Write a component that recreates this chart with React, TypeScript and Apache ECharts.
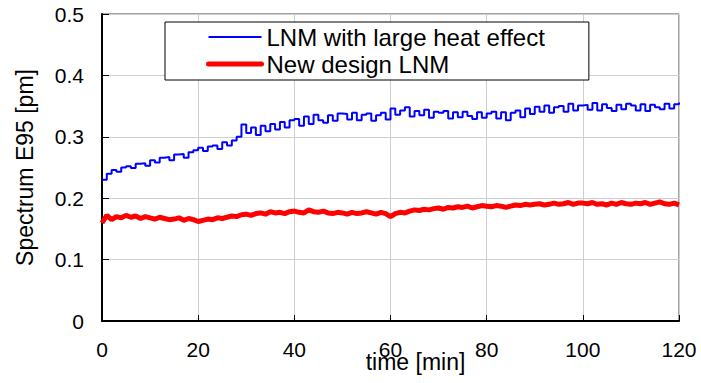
import React, { useEffect, useRef } from "react";
import * as echarts from "echarts";

// time in minutes (one sample per minute, 0..120)
const minutes: number[] = [
  0, 1, 2, 3, 4, 5, 6, 7, 8, 9, 10, 11, 12, 13, 14, 15, 16, 17, 18, 19,
  20, 21, 22, 23, 24, 25, 26, 27, 28, 29, 30, 31, 32, 33, 34, 35, 36, 37, 38, 39,
  40, 41, 42, 43, 44, 45, 46, 47, 48, 49, 50, 51, 52, 53, 54, 55, 56, 57, 58, 59,
  60, 61, 62, 63, 64, 65, 66, 67, 68, 69, 70, 71, 72, 73, 74, 75, 76, 77, 78, 79,
  80, 81, 82, 83, 84, 85, 86, 87, 88, 89, 90, 91, 92, 93, 94, 95, 96, 97, 98, 99,
  100, 101, 102, 103, 104, 105, 106, 107, 108, 109, 110, 111, 112, 113, 114, 115, 116, 117, 118, 119,
  120,
];

// LNM with large heat effect [pm]
const largeHeat: number[] = [
  0.230, 0.240, 0.246, 0.243, 0.250, 0.252, 0.249, 0.256, 0.257, 0.253,
  0.262, 0.258, 0.266, 0.267, 0.262, 0.271, 0.272, 0.266, 0.275, 0.278,
  0.282, 0.277, 0.284, 0.286, 0.280, 0.291, 0.286, 0.294, 0.300, 0.320,
  0.306, 0.315, 0.303, 0.318, 0.309, 0.321, 0.312, 0.324, 0.315, 0.327,
  0.329, 0.318, 0.333, 0.321, 0.336, 0.327, 0.323, 0.335, 0.326, 0.338,
  0.337, 0.328, 0.339, 0.327, 0.336, 0.338, 0.326, 0.335, 0.339, 0.328,
  0.346, 0.336, 0.343, 0.348, 0.333, 0.342, 0.335, 0.344, 0.331, 0.341,
  0.339, 0.342, 0.330, 0.340, 0.332, 0.341, 0.334, 0.329, 0.340, 0.331,
  0.338, 0.341, 0.330, 0.340, 0.327, 0.339, 0.343, 0.332, 0.346, 0.337,
  0.349, 0.341, 0.351, 0.339, 0.348, 0.350, 0.341, 0.354, 0.343, 0.351,
  0.352, 0.344, 0.355, 0.343, 0.353, 0.347, 0.342, 0.352, 0.345, 0.354,
  0.351, 0.343, 0.353, 0.342, 0.352, 0.348, 0.345, 0.354, 0.346, 0.353,
  0.356,
];

// New design LNM [pm]
const newDesign: number[] = [
  0.160, 0.172, 0.165, 0.170, 0.168, 0.172, 0.169, 0.171, 0.167, 0.170,
  0.168, 0.166, 0.169, 0.167, 0.165, 0.166, 0.168, 0.164, 0.167, 0.165,
  0.162, 0.164, 0.166, 0.165, 0.168, 0.167, 0.169, 0.171, 0.170, 0.173,
  0.174, 0.172, 0.175, 0.176, 0.174, 0.178, 0.176, 0.177, 0.175, 0.178,
  0.179, 0.177, 0.176, 0.181, 0.178, 0.177, 0.179, 0.176, 0.175, 0.177,
  0.176, 0.174, 0.177, 0.175, 0.176, 0.178, 0.176, 0.174, 0.177, 0.175,
  0.170, 0.175, 0.177, 0.176, 0.179, 0.181, 0.180, 0.182, 0.181, 0.183,
  0.184, 0.182, 0.185, 0.184, 0.186, 0.185, 0.187, 0.184, 0.186, 0.188,
  0.187, 0.186, 0.188, 0.187, 0.185, 0.187, 0.189, 0.188, 0.190, 0.189,
  0.190, 0.191, 0.189, 0.190, 0.192, 0.190, 0.191, 0.193, 0.190, 0.192,
  0.192, 0.191, 0.193, 0.190, 0.191, 0.189, 0.192, 0.190, 0.193, 0.191,
  0.190, 0.192, 0.191, 0.193, 0.190, 0.192, 0.194, 0.191, 0.190, 0.192,
  0.189,
];

const seriesNames = ["LNM with large heat effect", "New design LNM"];
const xTitle = "time [min]";
const yTitle = "Spectrum E95 [pm]";

const FONT = "'Liberation Sans', Arial, sans-serif";

export default function App() {
  const ref = useRef<HTMLDivElement>(null);

  useEffect(() => {
    document.body.style.margin = "0";
    if (!ref.current) return;
    const chart = echarts.init(ref.current, undefined, { renderer: "svg" });
    const zip = (vals: number[]) => minutes.map((t, i) => [t, vals[i]]);
    chart.setOption({
      animation: false,
      backgroundColor: "#ffffff",
      textStyle: { fontFamily: FONT, color: "#000" },
      grid: {
        left: 102,
        right: 22,
        top: 14,
        bottom: 62,
        containLabel: false,
        outerBoundsMode: "none",
        show: true,
        borderColor: "#444",
        borderWidth: 1,
      },
      legend: {
        left: 165,
        top: 22,
        orient: "vertical",
        backgroundColor: "#fff",
        borderColor: "#000",
        borderWidth: 1,
        borderRadius: 0,
        padding: [3, 44, 4, 41],
        itemWidth: 53,
        itemHeight: 14,
        itemGap: 3,
        itemStyle: { color: "transparent", borderColor: "transparent", borderWidth: 0, opacity: 0 },
        textStyle: { fontSize: 24, lineHeight: 24, fontFamily: FONT, color: "#000" },
        data: [
          { name: seriesNames[0], lineStyle: { width: 2, color: "#0000ff" } },
          { name: seriesNames[1], lineStyle: { width: 5, color: "#ff0000", cap: "round" } },
        ],
      },
      xAxis: {
        type: "value",
        min: 0,
        max: 120,
        interval: 20,
        name: xTitle,
        nameLocation: "middle",
        nameGap: 29,
        nameMoveOverlap: false,
        nameTextStyle: { fontSize: 23, fontFamily: FONT, color: "#000", padding: [0, 0, 0, 50] },
        axisLine: { show: true, onZero: false, lineStyle: { color: "#000", width: 2 } },
        axisTick: { show: true, inside: true, length: 6, lineStyle: { color: "#000" } },
        axisLabel: { fontSize: 21, margin: 18, color: "#000", fontFamily: FONT },
        splitLine: { show: true, lineStyle: { color: "#cfcfcf", width: 1 } },
      },
      yAxis: {
        type: "value",
        min: 0,
        max: 0.5,
        interval: 0.1,
        name: yTitle,
        nameLocation: "middle",
        nameGap: 66,
        nameMoveOverlap: false,
        nameTextStyle: { fontSize: 23, fontFamily: FONT, color: "#000" },
        axisLine: { show: true, lineStyle: { color: "#000", width: 2 } },
        axisTick: { show: true, inside: true, length: 7, lineStyle: { color: "#000" } },
        axisLabel: { fontSize: 21, margin: 18, color: "#000", fontFamily: FONT },
        splitLine: { show: true, lineStyle: { color: "#cfcfcf", width: 1 } },
      },
      series: [
        {
          name: seriesNames[0],
          type: "line",
          step: "end",
          symbol: "none",
          data: zip(largeHeat),
          lineStyle: { color: "#0000ff", width: 2 },
          itemStyle: { color: "#0000ff" },
          z: 3,
        },
        {
          name: seriesNames[1],
          type: "line",
          symbol: "none",
          data: zip(newDesign),
          lineStyle: { color: "#ff0000", width: 5 },
          itemStyle: { color: "#ff0000" },
          z: 2,
        },
      ],
    });
    return () => chart.dispose();
  }, []);

  return <div ref={ref} style={{ width: 701, height: 383 }} />;
}
